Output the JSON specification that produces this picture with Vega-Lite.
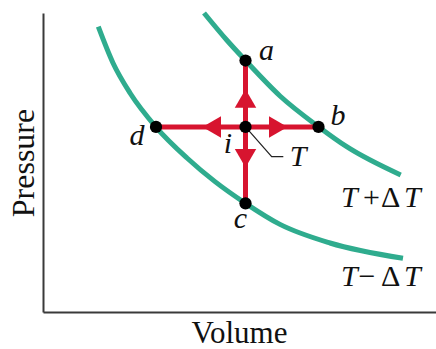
{
  "$schema": "https://vega.github.io/schema/vega-lite/v6.json",
  "width": 393,
  "height": 299,
  "autosize": {"type": "none"},
  "padding": {"left": 43, "top": 13, "right": 0, "bottom": 37},
  "background": "white",
  "config": {
    "view": {"stroke": null},
    "axis": {
      "domainColor": "#3a3a3a",
      "domainWidth": 2,
      "ticks": false,
      "labels": false,
      "grid": false,
      "titleFont": "Liberation Serif",
      "titleFontSize": 32,
      "titleFontWeight": "normal",
      "titleColor": "#111111"
    }
  },
  "datasets": {
    "curves": [
      {"curve": "T+dT", "ord": 1, "V": 4.097, "P": 10.0},
      {"curve": "T+dT", "ord": 2, "V": 4.674, "P": 9.097},
      {"curve": "T+dT", "ord": 3, "V": 5.153, "P": 8.411},
      {"curve": "T+dT", "ord": 4, "V": 6.031, "P": 7.224},
      {"curve": "T+dT", "ord": 5, "V": 7.010, "P": 6.197},
      {"curve": "T+dT", "ord": 6, "V": 7.728, "P": 5.528},
      {"curve": "T+dT", "ord": 7, "V": 9.102, "P": 4.582},
      {"curve": "T-dT", "ord": 1, "V": 1.407, "P": 9.542},
      {"curve": "T-dT", "ord": 2, "V": 1.781, "P": 8.328},
      {"curve": "T-dT", "ord": 3, "V": 2.214, "P": 7.324},
      {"curve": "T-dT", "ord": 4, "V": 2.875, "P": 6.187},
      {"curve": "T-dT", "ord": 5, "V": 3.664, "P": 5.151},
      {"curve": "T-dT", "ord": 6, "V": 4.377, "P": 4.36},
      {"curve": "T-dT", "ord": 7, "V": 5.153, "P": 3.635},
      {"curve": "T-dT", "ord": 8, "V": 6.031, "P": 2.930},
      {"curve": "T-dT", "ord": 9, "V": 7.303, "P": 2.308},
      {"curve": "T-dT", "ord": 10, "V": 9.160, "P": 1.796}
    ],
    "segments": [
      {"to": "a", "V": 5.153, "P": 6.19, "V2": 5.153, "P2": 8.411},
      {"to": "b", "V": 5.153, "P": 6.19, "V2": 7.010, "P2": 6.19},
      {"to": "c", "V": 5.153, "P": 6.19, "V2": 5.153, "P2": 3.635},
      {"to": "d", "V": 5.153, "P": 6.19, "V2": 2.875, "P2": 6.19}
    ],
    "heads": [
      {"dir": "up", "V": 5.153, "P": 7.14},
      {"dir": "down", "V": 5.153, "P": 5.14},
      {"dir": "left", "V": 4.293, "P": 6.19},
      {"dir": "right", "V": 5.987, "P": 6.19}
    ],
    "states": [
      {"name": "a", "V": 5.153, "P": 8.411},
      {"name": "b", "V": 7.010, "P": 6.19},
      {"name": "c", "V": 5.153, "P": 3.635},
      {"name": "d", "V": 2.875, "P": 6.19},
      {"name": "i", "V": 5.153, "P": 6.19}
    ],
    "leader": [
      {"ord": 1, "V": 5.153, "P": 6.19},
      {"ord": 2, "V": 5.819, "P": 5.194},
      {"ord": 3, "V": 6.115, "P": 5.194}
    ],
    "italicLabels": [
      {"label": "a", "V": 5.687, "P": 8.428},
      {"label": "b", "V": 7.506, "P": 6.254},
      {"label": "d", "V": 2.392, "P": 5.585},
      {"label": "i", "V": 4.707, "P": 5.318},
      {"label": "c", "V": 5.025, "P": 2.809},
      {"label": "T", "V": 6.489, "P": 4.883}
    ],
    "isoLabelsItalic": [
      {"label": "T", "V": 7.583, "P": 3.512},
      {"label": "T", "V": 9.186, "P": 3.512},
      {"label": "T", "V": 7.583, "P": 0.853},
      {"label": "T", "V": 9.186, "P": 0.853}
    ],
    "isoLabelsUpright": [
      {"label": "+", "V": 8.14, "P": 3.512},
      {"label": "Δ", "V": 8.601, "P": 3.512},
      {"label": "−", "V": 8.03, "P": 0.853},
      {"label": "Δ", "V": 8.601, "P": 0.853}
    ]
  },
  "encoding": {
    "x": {
      "field": "V",
      "type": "quantitative",
      "scale": {"domain": [0, 10], "nice": false, "zero": false},
      "axis": {"title": "Volume", "titleX": 196, "titleY": 30, "titleFontSize": 31, "titleBaseline": "alphabetic", "titleAlign": "center", "titleAngle": 0}
    },
    "y": {
      "field": "P",
      "type": "quantitative",
      "scale": {"domain": [0, 10], "nice": false, "zero": false},
      "axis": {"title": "Pressure", "titleX": -9.7, "titleY": 149.5, "titleAngle": 270, "titleBaseline": "alphabetic", "titleAlign": "center"}
    }
  },
  "layer": [
    {
      "data": {"name": "curves"},
      "mark": {"type": "line", "color": "#2fac8e", "strokeWidth": 5, "strokeCap": "butt", "interpolate": "monotone"},
      "encoding": {
        "detail": {"field": "curve", "type": "nominal"},
        "order": {"field": "ord", "type": "quantitative"}
      }
    },
    {
      "data": {"name": "segments"},
      "mark": {"type": "rule", "color": "#d7142f", "strokeWidth": 5},
      "encoding": {
        "x2": {"field": "V2"},
        "y2": {"field": "P2"}
      }
    },
    {
      "data": {"name": "heads"},
      "mark": {"type": "point", "filled": true, "color": "#d7142f", "opacity": 1, "size": 460, "strokeWidth": 0},
      "encoding": {
        "shape": {
          "field": "dir",
          "type": "nominal",
          "scale": {"domain": ["up", "down", "left", "right"], "range": ["triangle-up", "triangle-down", "triangle-left", "triangle-right"]},
          "legend": null
        }
      }
    },
    {
      "data": {"name": "leader"},
      "mark": {"type": "line", "color": "#222222", "strokeWidth": 1.2},
      "encoding": {
        "order": {"field": "ord", "type": "quantitative"}
      }
    },
    {
      "data": {"name": "states"},
      "mark": {"type": "point", "filled": true, "color": "#000000", "opacity": 1, "size": 150, "shape": "circle", "strokeWidth": 0}
    },
    {
      "data": {"name": "italicLabels"},
      "mark": {"type": "text", "font": "Liberation Serif", "fontStyle": "italic", "fontSize": 30, "baseline": "alphabetic", "align": "center", "color": "#111111"},
      "encoding": {
        "text": {"field": "label", "type": "nominal"}
      }
    },
    {
      "data": {"name": "isoLabelsItalic"},
      "mark": {"type": "text", "font": "Liberation Serif", "fontStyle": "italic", "fontSize": 30, "baseline": "alphabetic", "align": "left", "color": "#111111"},
      "encoding": {
        "text": {"field": "label", "type": "nominal"}
      }
    },
    {
      "data": {"name": "isoLabelsUpright"},
      "mark": {"type": "text", "font": "Liberation Serif", "fontSize": 30, "baseline": "alphabetic", "align": "left", "color": "#111111"},
      "encoding": {
        "text": {"field": "label", "type": "nominal"}
      }
    }
  ]
}
